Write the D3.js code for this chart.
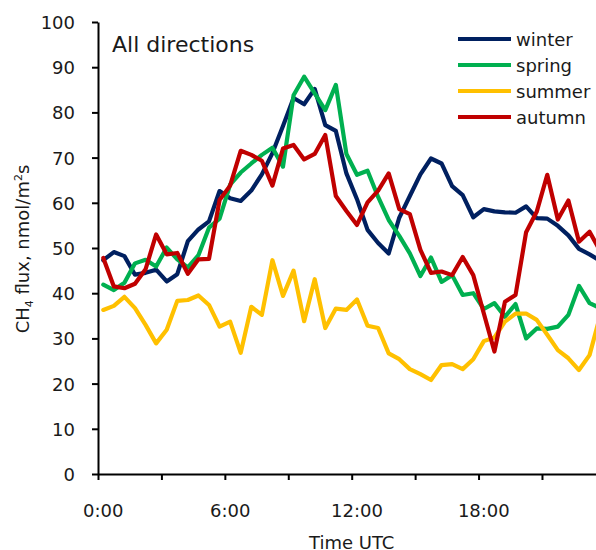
<!DOCTYPE html>
<html>
<head>
<meta charset="utf-8">
<script src="https://cdn.jsdelivr.net/npm/d3@7"></script>
<style>
  html, body { margin: 0; padding: 0; background: #fff; overflow: hidden; }
  svg { display: block; font-family: "DejaVu Sans", Verdana, sans-serif; }
</style>
</head>
<body>
<svg id="chart" width="596" height="550"></svg>
<script>
// Half-hourly mean CH4 flux by season (all wind directions)
const times = d3.range(48).map(i => `${Math.floor(i / 2)}:${i % 2 ? "30" : "00"}`);
const timeLabels = ["0:00", "6:00", "12:00", "18:00"];
const yTicks = [0, 10, 20, 30, 40, 50, 60, 70, 80, 90, 100];
const seriesNames = ["winter", "spring", "summer", "autumn"];
const seriesColors = ["#002060", "#00b050", "#ffc000", "#c00000"];

const winter = [47.3, 49.1, 48.2, 44.1, 44.5, 45.2, 42.6, 44.2, 51.5, 54.1, 55.9, 62.6,
  61.0, 60.4, 62.7, 66.3, 71.0, 77.0, 83.2, 81.8, 85.2, 77.2, 75.9, 66.5,
  60.8, 54.0, 51.1, 48.8, 56.7, 61.5, 66.3, 69.8, 68.7, 63.7, 61.7, 56.8,
  58.6, 58.1, 57.9, 57.8, 59.2, 56.6, 56.5, 54.9, 52.8, 49.8, 48.6, 47.2];
const spring = [41.9, 40.7, 42.3, 46.6, 47.4, 45.9, 50.1, 47.5, 45.7, 48.4, 54.5, 56.5,
  64.0, 66.7, 68.7, 70.6, 72.2, 68.0, 83.8, 87.9, 84.2, 80.5, 86.1, 70.8,
  66.2, 67.1, 61.3, 56.2, 52.7, 48.8, 43.8, 47.9, 42.5, 44.0, 39.6, 40.0,
  36.5, 37.8, 34.8, 37.6, 30.0, 32.2, 32.1, 32.6, 35.2, 41.6, 37.8, 36.7];
const summer = [36.3, 37.2, 39.2, 36.7, 33.0, 28.9, 31.9, 38.3, 38.5, 39.5, 37.4, 32.6,
  33.7, 26.8, 37.0, 35.2, 47.3, 39.4, 45.0, 33.8, 43.1, 32.3, 36.6, 36.3,
  38.6, 32.8, 32.3, 26.7, 25.4, 23.2, 22.1, 20.8, 24.1, 24.3, 23.2, 25.4,
  29.4, 30.2, 33.7, 35.5, 35.5, 34.1, 30.8, 27.4, 25.6, 23.0, 26.3, 35.0];
const autumn = [47.8, 41.5, 41.1, 42.1, 45.3, 53.0, 48.6, 48.9, 44.3, 47.5, 47.6, 60.6,
  63.8, 71.5, 70.6, 69.3, 63.8, 72.0, 72.8, 69.6, 70.8, 75.0, 61.5, 58.2,
  55.1, 60.1, 62.7, 66.5, 58.6, 57.5, 49.6, 44.5, 44.8, 44.0, 48.0, 44.0,
  35.5, 27.1, 38.1, 39.6, 53.5, 58.0, 66.2, 56.3, 60.5, 51.4, 53.6, 49.4];
const seriesValues = [winter, spring, summer, autumn];

const svg = d3.select("#chart");
const plot = { left: 98, right: 605.4, top: 22, bottom: 474 };

const x = d3.scaleBand().domain(times).range([plot.left, plot.right]).padding(0);
const xHours = d3.scaleLinear().domain([0, 24]).range([plot.left, plot.right]);
const y = d3.scaleLinear().domain([0, 100]).range([plot.bottom, plot.top]);
const cx = t => x(t) + x.bandwidth() / 2;

// Y axis
const yAxis = svg.append("g")
  .attr("transform", `translate(${plot.left},0)`)
  .call(d3.axisLeft(y).tickValues(yTicks).tickSize(6).tickSizeOuter(0).tickPadding(17));
yAxis.select(".domain").attr("stroke", "#000").attr("stroke-width", 2);
yAxis.selectAll(".tick line").attr("stroke", "#000").attr("stroke-width", 2);
yAxis.selectAll(".tick text")
  .attr("font-size", 18).attr("font-family", "DejaVu Sans, Verdana, sans-serif")
  .attr("fill", "#1a1a1a").attr("dy", "0.36em");

// X axis: tick marks every 3 hours, labels every 6 hours at category centres
const xMarks = svg.append("g")
  .attr("transform", `translate(0,${plot.bottom})`)
  .call(d3.axisBottom(xHours).tickValues(d3.range(0, 25, 3)).tickSize(6).tickSizeOuter(0).tickFormat(""));
xMarks.select(".domain").attr("stroke", "#000").attr("stroke-width", 2);
xMarks.selectAll(".tick line").attr("stroke", "#000").attr("stroke-width", 2);

const xLabels = svg.append("g")
  .attr("transform", `translate(0,${plot.bottom})`)
  .call(d3.axisBottom(x).tickValues(timeLabels).tickSize(0).tickPadding(0));
xLabels.select(".domain").remove();
xLabels.selectAll(".tick text")
  .attr("font-size", 18).attr("font-family", "DejaVu Sans, Verdana, sans-serif")
  .attr("fill", "#1a1a1a").attr("dy", null).attr("y", 43);

// Series lines
const line = d3.line()
  .x((d, i) => cx(times[i]))
  .y(d => y(d));

svg.append("g").selectAll("path")
  .data(seriesValues)
  .join("path")
  .attr("d", d => line(d))
  .attr("fill", "none")
  .attr("stroke", (d, i) => seriesColors[i])
  .attr("stroke-width", 4.2)
  .attr("stroke-linejoin", "round")
  .attr("stroke-linecap", "round");

// Panel title
svg.append("text")
  .attr("x", 112).attr("y", 52)
  .attr("font-size", 22).attr("fill", "#1a1a1a")
  .text("All directions");

// Legend
const legend = svg.append("g");
seriesNames.forEach((name, i) => {
  const ly = 39 + i * 26;
  legend.append("line")
    .attr("x1", 458).attr("x2", 511).attr("y1", ly).attr("y2", ly)
    .attr("stroke", seriesColors[i]).attr("stroke-width", 4);
  legend.append("text")
    .attr("x", 516).attr("y", ly + 6.5)
    .attr("font-size", 18).attr("fill", "#1a1a1a")
    .text(name);
});

// Axis titles
const yTitle = svg.append("text")
  .attr("transform", "translate(29,249) rotate(-90)")
  .attr("text-anchor", "middle")
  .attr("font-size", 18).attr("fill", "#1a1a1a");
yTitle.append("tspan").text("CH");
yTitle.append("tspan").attr("font-size", 11).attr("dy", 4).text("4");
yTitle.append("tspan").attr("dy", -4).text(" flux, nmol/m");
yTitle.append("tspan").attr("font-size", 11).attr("dy", -7).text("2");
yTitle.append("tspan").attr("dy", 7).text("s");

svg.append("text")
  .attr("x", (plot.left + plot.right) / 2).attr("y", 549)
  .attr("text-anchor", "middle")
  .attr("font-size", 18).attr("fill", "#1a1a1a")
  .text("Time UTC");
</script>
</body>
</html>
